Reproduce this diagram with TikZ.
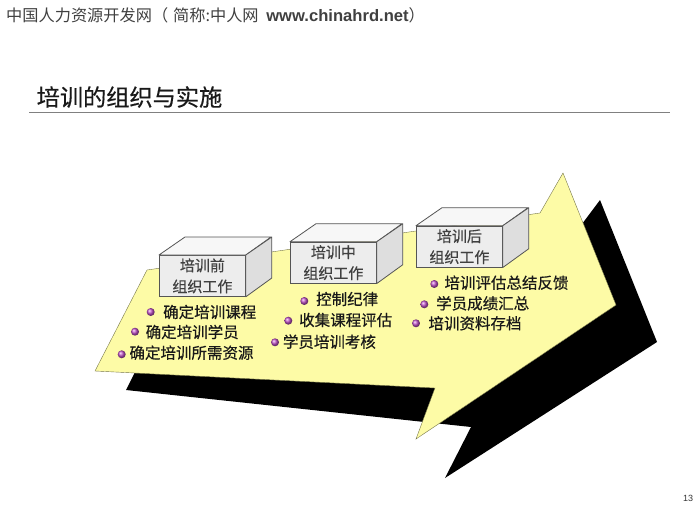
\documentclass[tikz,border=0pt]{standalone}
\usepackage{fontspec}
\newfontfamily\cjk{Noto Sans CJK SC}
\newfontfamily\cjkb[FakeBold=0.5]{Noto Sans CJK SC}
\newfontfamily\latinb{Liberation Sans}
\definecolor{arrowyellow}{HTML}{FDFBA6}
\definecolor{arrowedge}{HTML}{77774A}
\definecolor{boxfront}{HTML}{EDEDED}
\definecolor{boxtop}{HTML}{F7F7F7}
\definecolor{boxside}{HTML}{DEDEDE}
\definecolor{boxedge}{HTML}{555555}
\definecolor{dotpurple}{HTML}{C050C8}
\tikzset{
	item/.style = {anchor=west, inner sep=0pt, text=black!90,
		font=\cjkb\fontsize{15.5}{18}\selectfont},
	dot/.style = {circle, inner sep=0pt, minimum size=8pt, ball color=dotpurple},
	front/.style = {draw=boxedge, thick, fill=boxfront, anchor=north west, align=center,
		inner sep=0pt, minimum width=86pt, minimum height=41pt, text=black!75,
		font=\cjkb\fontsize{15}{21}\selectfont},
	face/.style = {draw=boxedge, thick, line join=round}
}

\begin{document}
\begin{tikzpicture}[x=1pt, y=-1pt]
\useasboundingbox (0,0) rectangle (700,524);
%----------------- Header --------------
\node (header) [anchor=west, inner sep=0pt, text=black!75, font=\cjk\fontsize{16.2}{18}\selectfont]
	at (6,15) {中国人力资源开发网（\hspace{5pt}简称:中人网\hspace{4pt} {\latinb\bfseries\fontsize{16.6}{18}\selectfont www.chinahrd.net}）};
\node (title) [anchor=west, inner sep=0pt, text=black!90, font=\cjkb\fontsize{23.2}{26}\selectfont]
	at (36.5,97) {培训的组织与实施};
\coordinate (ruleL) at (29,112.7);
\coordinate (ruleR) at (670,112.7);
\draw [black!50, thick] (ruleL) -- (ruleR);
\node (page) [inner sep=0pt, text=black!80, font=\latinb\fontsize{9}{10}\selectfont] at (688,498) {13};
%----------------- Arrow --------------
\fill [black] (135,372) -- (126,390) -- (471,427) -- (445,478) -- (657,342) -- (600,200) -- (570,240) -- cycle;
\draw [arrowedge, fill=arrowyellow, line join=miter] (95,371) -- (147,270) -- (540,213) -- (563,173)
	-- (616,305) -- (416,439) -- (435,388) -- cycle;
%----------------- Boxes --------------
\node (B1) [front] at (159,255) {培训前\\组织工作};
\draw [face, fill=boxtop] (B1.north west) -- ++(26,-18) -- ++(86,0) -- (B1.north east) -- cycle;
\draw [face, fill=boxside] (B1.north east) -- ++(26,-18) -- ++(0,41) -- (B1.south east) -- cycle;
\node (B2) [front] at (290,241.7) {培训中\\组织工作};
\draw [face, fill=boxtop] (B2.north west) -- ++(26,-18) -- ++(86,0) -- (B2.north east) -- cycle;
\draw [face, fill=boxside] (B2.north east) -- ++(26,-18) -- ++(0,41) -- (B2.south east) -- cycle;
\node (B3) [front] at (416,225.7) {培训后\\组织工作};
\draw [face, fill=boxtop] (B3.north west) -- ++(26,-18) -- ++(86,0) -- (B3.north east) -- cycle;
\draw [face, fill=boxside] (B3.north east) -- ++(26,-18) -- ++(0,41) -- (B3.south east) -- cycle;
%----------------- Before --------------
\node (D11) [dot] at (150.7,312) {};
\node (T11) [item] at (163,312) {确定培训课程};
\node (D12) [dot] at (135,331.7) {};
\node (T12) [item] at (145.5,332) {确定培训学员};
\node (D13) [dot] at (121.7,354.3) {};
\node (T13) [item] at (129.3,352.7) {确定培训所需资源};
%----------------- During --------------
\node (D21) [dot] at (304.3,301) {};
\node (T21) [item] at (316,299) {控制纪律};
\node (D22) [dot] at (288.3,320.7) {};
\node (T22) [item] at (299,320) {收集课程评估};
\node (D23) [dot] at (275,342.3) {};
\node (T23) [item] at (282.7,341.7) {学员培训考核};
%----------------- After --------------
\node (D31) [dot] at (434.3,284) {};
\node (T31) [item] at (444.3,282.7) {培训评估总结反馈};
\node (D32) [dot] at (424.3,304.3) {};
\node (T32) [item] at (436,303.3) {学员成绩汇总};
\node (D33) [dot] at (416,323.3) {};
\node (T33) [item] at (428.3,323.3) {培训资料存档};
\end{tikzpicture}
\end{document}
